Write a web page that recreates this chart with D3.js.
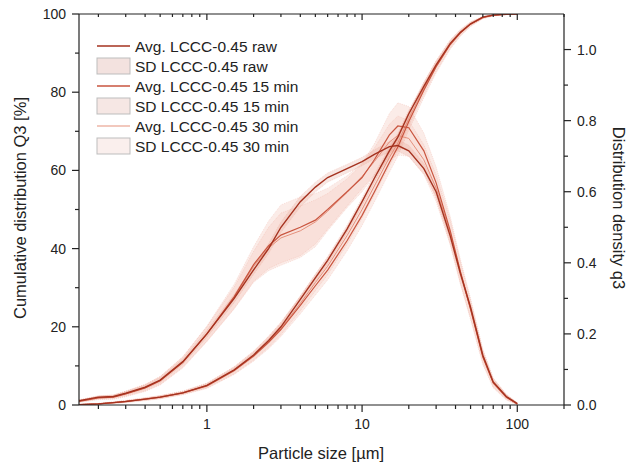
<!DOCTYPE html>
<html>
<head>
<meta charset="utf-8">
<script src="https://cdnjs.cloudflare.com/ajax/libs/d3/7.8.5/d3.min.js"></script>
<style>
  body{margin:0;background:#fff;}
  svg text{font-family:"Liberation Sans",Arial,sans-serif;fill:#222;}
</style>
</head>
<body>
<svg class="chart"></svg>
<script>
// particle sizes (µm)
var sizes = [0.15,0.2,0.25,0.3,0.4,0.5,0.7,1,1.5,2,2.5,3,4,5,6,8,10,12,15,17,20,25,30,37,43,50,60,70,85,100];

// cumulative Q3 [%]
var cumRaw = [0.1,0.3,0.6,0.9,1.5,2.0,3.1,5.0,9.0,12.8,16.5,20,27,32.5,37,45,52,58,65,68.5,74.5,81.5,87,92.5,95.3,97.5,99.2,99.7,99.95,100];
var cum15  = [0.1,0.3,0.6,0.9,1.5,2.0,3.1,4.9,8.8,12.5,16,19.3,25.5,30.5,34.5,42,48.5,54.5,62,66,72.5,80.5,86.5,92.2,95.2,97.4,99.1,99.7,99.95,100];
var cum30  = [0.1,0.3,0.6,0.9,1.5,2.0,3.1,4.95,8.9,12.6,16.2,19.6,26,31.3,35.5,43.3,50,56,63.3,67,73.3,81,86.7,92.3,95.2,97.4,99.1,99.7,99.95,100];
var sdCumRaw = [0,0.1,0.1,0.2,0.2,0.3,0.3,0.4,0.5,0.6,0.7,0.8,0.9,1,1,1,1,1,1,1,0.9,0.8,0.7,0.5,0.4,0.3,0.2,0.1,0,0];
var sdCum15  = [0,0.1,0.2,0.3,0.4,0.4,0.5,0.7,1,1.3,1.6,1.8,2.2,2.4,2.5,2.6,2.6,2.6,2.5,2.4,2.2,1.9,1.6,1.2,0.9,0.6,0.3,0.2,0.1,0];
var sdCum30  = [0,0.1,0.2,0.2,0.3,0.4,0.4,0.6,0.9,1.1,1.4,1.6,1.9,2.1,2.2,2.2,2.2,2.2,2.1,2,1.8,1.6,1.3,1,0.7,0.5,0.3,0.2,0.1,0];

// density q3
var densRaw = [0.012,0.022,0.024,0.033,0.05,0.07,0.122,0.2,0.3,0.38,0.44,0.5,0.572,0.613,0.64,0.665,0.685,0.705,0.727,0.73,0.715,0.665,0.6,0.475,0.37,0.275,0.14,0.065,0.024,0.004];
var dens15  = [0.01,0.02,0.022,0.031,0.048,0.068,0.12,0.2,0.305,0.395,0.448,0.478,0.5,0.52,0.55,0.6,0.64,0.69,0.76,0.785,0.78,0.715,0.625,0.49,0.375,0.27,0.135,0.062,0.022,0.003];
var dens30  = [0.011,0.021,0.023,0.032,0.049,0.069,0.121,0.2,0.302,0.39,0.442,0.47,0.49,0.515,0.545,0.598,0.643,0.685,0.74,0.758,0.75,0.69,0.61,0.485,0.372,0.27,0.137,0.063,0.023,0.003];
var sdDensRaw = [0.003,0.004,0.004,0.005,0.006,0.007,0.008,0.01,0.012,0.013,0.014,0.015,0.015,0.014,0.013,0.012,0.012,0.013,0.015,0.016,0.016,0.015,0.014,0.013,0.012,0.01,0.008,0.006,0.004,0.002];
var sdDens15  = [0.003,0.005,0.006,0.008,0.01,0.012,0.016,0.022,0.035,0.05,0.07,0.085,0.085,0.075,0.06,0.045,0.04,0.045,0.06,0.065,0.06,0.05,0.045,0.04,0.035,0.03,0.022,0.014,0.008,0.003];
var sdDens30  = [0.003,0.004,0.005,0.007,0.009,0.011,0.014,0.02,0.03,0.042,0.058,0.07,0.07,0.062,0.05,0.038,0.034,0.038,0.05,0.055,0.05,0.042,0.038,0.034,0.03,0.025,0.018,0.012,0.007,0.003];

var legendLabels = ["Avg. LCCC-0.45 raw","SD LCCC-0.45 raw","Avg. LCCC-0.45 15 min","SD LCCC-0.45 15 min","Avg. LCCC-0.45 30 min","SD LCCC-0.45 30 min"];
var leftTicks = [0,20,40,60,80,100];
var rightTicks = [0,0.2,0.4,0.6,0.8,1.0];
var xTicks = [1,10,100];

var width = 638, height = 465;
var L = 79, R = 564, T = 14, B = 405;

var svg = d3.select(".chart").attr("width",width).attr("height",height);

var x = d3.scaleLog().domain([0.15,200]).range([L,R]);
var yL = d3.scaleLinear().domain([0,100]).range([B,T]);
var yR = d3.scaleLinear().domain([0,1.1]).range([B,T]);

svg.append("clipPath").attr("id","clip")
  .append("rect").attr("x",L).attr("y",T).attr("width",R-L).attr("height",B-T);

var series = [
  {cum:cumRaw, sdc:sdCumRaw, dens:densRaw, sdd:sdDensRaw, color:"#a5321f", w:1.4, band:"rgba(214,120,100,0.18)"},
  {cum:cum15,  sdc:sdCum15,  dens:dens15,  sdd:sdDens15,  color:"#c9553f", w:1.2, band:"rgba(232,140,120,0.17)"},
  {cum:cum30,  sdc:sdCum30,  dens:dens30,  sdd:sdDens30,  color:"#e5917d", w:1.0, band:"rgba(240,160,140,0.15)"}
];

var plot = svg.append("g").attr("clip-path","url(#clip)");

function band(vals, sd, y){
  return d3.area()
    .x(function(d,i){ return x(sizes[i]); })
    .y0(function(d,i){ return y(Math.max(0, vals[i]-sd[i])); })
    .y1(function(d,i){ return y(vals[i]+sd[i]); })(sizes);
}
function line(vals, y){
  return d3.line()
    .x(function(d,i){ return x(sizes[i]); })
    .y(function(d,i){ return y(vals[i]); })(sizes);
}

series.forEach(function(s){
  plot.append("path").attr("d",band(s.cum,s.sdc,yL))
    .attr("fill",s.band).attr("stroke","rgba(230,130,110,0.35)").attr("stroke-width",0.6).attr("stroke-dasharray","1,1");
  plot.append("path").attr("d",band(s.dens,s.sdd,yR))
    .attr("fill",s.band).attr("stroke","rgba(230,130,110,0.35)").attr("stroke-width",0.6).attr("stroke-dasharray","1,1");
});
series.slice().reverse().forEach(function(s){
  plot.append("path").attr("d",line(s.cum,yL)).attr("fill","none").attr("stroke",s.color).attr("stroke-width",s.w);
  plot.append("path").attr("d",line(s.dens,yR)).attr("fill","none").attr("stroke",s.color).attr("stroke-width",s.w);
});

// frame
var axes = svg.append("g").attr("stroke","#222").attr("stroke-width",1.2).attr("fill","none");
axes.append("line").attr("x1",L).attr("x2",L).attr("y1",T).attr("y2",B);
axes.append("line").attr("x1",R).attr("x2",R).attr("y1",T).attr("y2",B);
axes.append("line").attr("x1",L).attr("x2",R).attr("y1",B).attr("y2",B);
axes.append("line").attr("x1",L).attr("x2",R).attr("y1",T).attr("y2",T);

// log ticks
var allX = [];
[0.1,1,10,100].forEach(function(dec){
  for(var k=1;k<10;k++){
    var v = dec*k;
    if(v>=0.15 && v<=200) allX.push(v);
  }
});
allX.forEach(function(v){
  var major = xTicks.indexOf(v) >= 0;
  var px = x(v);
  axes.append("line").attr("x1",px).attr("x2",px).attr("y1",B).attr("y2",B+(major?7:4));
  axes.append("line").attr("x1",px).attr("x2",px).attr("y1",T).attr("y2",T+(major?6:3));
});
svg.selectAll(".xl").data(xTicks).enter().append("text")
  .attr("x",function(d){ return x(d); }).attr("y",429)
  .attr("text-anchor","middle").attr("font-size","14px")
  .text(function(d){ return d; });

// left axis
d3.range(0,101,10).forEach(function(v){
  var major = v%20===0;
  axes.append("line").attr("x1",L).attr("x2",L-(major?7:4)).attr("y1",yL(v)).attr("y2",yL(v));
});
svg.selectAll(".yl").data(leftTicks).enter().append("text")
  .attr("x",66).attr("y",function(d){ return yL(d)+5; })
  .attr("text-anchor","end").attr("font-size","14px")
  .text(function(d){ return d; });

// right axis
d3.range(0,11,1).forEach(function(k){
  var v = k/10;
  var major = k%2===0;
  axes.append("line").attr("x1",R).attr("x2",R+(major?7:4)).attr("y1",yR(v)).attr("y2",yR(v));
});
svg.selectAll(".yr").data(rightTicks).enter().append("text")
  .attr("x",577).attr("y",function(d){ return yR(d)+5; })
  .attr("font-size","14px")
  .text(function(d){ return d.toFixed(1); });

// titles
svg.append("text").attr("x",321).attr("y",459).attr("text-anchor","middle").attr("font-size","16.5px").text("Particle size [µm]");
svg.append("text").attr("transform","translate(26,208) rotate(-90)").attr("text-anchor","middle").attr("font-size","16.5px").text("Cumulative distribution Q3 [%]");
svg.append("text").attr("transform","translate(613,208) rotate(90)").attr("text-anchor","middle").attr("font-size","16.5px").text("Distribution density q3");

// legend
var patchFill = ["#f3e2df","#f6e7e4","#faefed"];
var leg = svg.append("g");
legendLabels.forEach(function(t,i){
  var yy = 46 + i*20;
  var s = series[Math.floor(i/2)];
  if(i%2===0){
    leg.append("line").attr("x1",97).attr("x2",130).attr("y1",yy).attr("y2",yy)
      .attr("stroke",s.color).attr("stroke-width",s.w+0.2);
  }else{
    leg.append("rect").attr("x",97).attr("y",yy-8).attr("width",33).attr("height",16)
      .attr("fill",patchFill[Math.floor(i/2)]).attr("stroke","#bdbdbd").attr("stroke-width",1);
  }
  leg.append("text").attr("x",135).attr("y",yy+5.5).attr("font-size","15.5px").text(t);
});
</script>
</body>
</html>
